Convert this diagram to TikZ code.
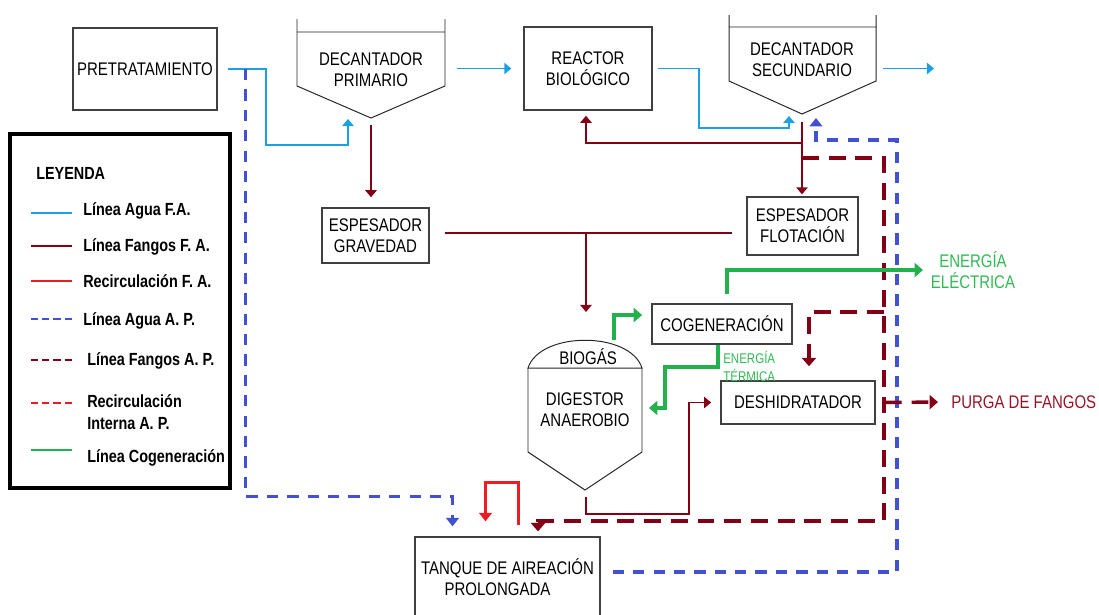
\documentclass[tikz,border=0pt]{standalone}
\usepackage{fontspec}
\setmainfont{Liberation Sans}[FakeStretch=0.82]
\usetikzlibrary{positioning}
\usetikzlibrary{calc}
\usetikzlibrary{arrows.meta}
\definecolor{colAgua}{RGB}{27,161,226}
\definecolor{colFango}{RGB}{130,0,22}
\definecolor{colRecirc}{RGB}{237,28,36}
\definecolor{colAguaAP}{RGB}{66,80,210}
\definecolor{colCogen}{RGB}{34,177,76}
\definecolor{colCogenTxt}{RGB}{50,185,85}
\definecolor{colPurga}{RGB}{150,20,40}

\begin{document}
\begin{tikzpicture}[
    x=0.025cm, y=-0.025cm,
    >={Triangle[length=5pt,width=8pt]},
    % node styles
    box/.style = {
      draw=black!75,
      line width=0.9pt,
      align=center,
      inner sep=0pt,
      font=\fontsize{13}{15}\selectfont
    },
    txt/.style = {
      align=center,
      inner sep=0pt,
      font=\fontsize{13}{15}\selectfont
    },
    tank/.style = {draw=black!85, line width=0.7pt},
    legtxt/.style = {
      anchor=base west,
      align=left,
      inner sep=0pt,
      font=\fontsize{12.5}{15.6}\selectfont\bfseries
    },
    leg/.style = {line width=2pt},
    % arrow styles
    agua/.style = {->, line width=1.3pt, draw=colAgua},
    fango/.style = {->, line width=1.3pt, draw=colFango},
    fangofino/.style = {->, line width=0.9pt, draw=colFango},
    recirc/.style = {->, line width=2.3pt, draw=colRecirc, >={Triangle[length=6pt,width=9pt]}},
    aguaap/.style = {->, line width=2.4pt, draw=colAguaAP, dash pattern=on 8pt off 6.5pt, >={Triangle[length=6pt,width=9pt]}},
    fangoap/.style = {->, line width=2.4pt, draw=colFango, dash pattern=on 12pt off 7pt, >={Triangle[length=6pt,width=10pt]}},
    cogenln/.style = {->, line width=2.3pt, draw=colCogen, >={Triangle[length=6pt,width=10pt]}}
  ]
  \useasboundingbox (0,0) rectangle (1099,614);

  % --- Nodes
  \node[box, minimum width=3.6cm, minimum height=2.05cm] (pretrat) at (145,69) {PRETRATAMIENTO};
  \node[txt, minimum width=3.7cm] (decprim) at (371,70) {DECANTADOR\\PRIMARIO};
  \node[box, minimum width=3.2cm, minimum height=2.08cm] (reactor) at (588,68.5) {REACTOR\\BIOLÓGICO};
  \node[txt, minimum width=3.68cm] (decsec) at (802,60) {DECANTADOR\\SECUNDARIO};
  \node[box, minimum width=2.68cm, minimum height=1.38cm] (espgrav) at (375.5,235.5) {ESPESADOR\\GRAVEDAD};
  \node[box, minimum width=2.78cm, minimum height=1.45cm] (espflot) at (802.5,226) {ESPESADOR\\FLOTACIÓN};
  \node[box, minimum width=3.5cm, minimum height=1cm] (cogen) at (722,324) {COGENERACIÓN};
  \node[txt] (biogas) at (588,357) {BIOGÁS};
  \node[txt] (digestor) at (585,410) {DIGESTOR\\ANAEROBIO};
  \node[box, minimum width=3.85cm, minimum height=1.08cm] (deshid) at (798,402.5) {DESHIDRATADOR};
  \node[box, minimum width=4.63cm, minimum height=2cm] (tanque) at (507.5,577) {TANQUE DE AIREACIÓN\\PROLONGADA\hspace*{0.5cm}};

  \node[txt, text=colCogenTxt] (eleclbl) at (973,270) {ENERGÍA\\ELÉCTRICA};
  \node[txt, anchor=west, align=left, text=colCogenTxt, font=\fontsize{10}{12.8}\selectfont] (termlbl) at (723,366) {ENERGÍA\\TÉRMICA};
  \node[txt, anchor=west, text=colPurga] (purgalbl) at (951,402) {PURGA DE FANGOS};

  % tanks drawn round their text
  \draw[tank] (297,19) -- (297,86) -- (371,118) -- (445,86) -- (445,19) (297,32) -- (445,32);
  \draw[tank] (729,15) -- (729,81) -- (802,114) -- (876,81) -- (876,15) (729,27) -- (876,27);
  \draw[tank] (528,368) .. controls (540,331) and (630,331) .. (642,368) -- cycle;
  \draw[tank] (528,368) -- (528,452) -- (585,490) -- (642,452) -- (642,368);

  % --- Coordinates for free ends
  \coordinate (decprimin) at (348,119);
  \coordinate (decprimout) at (371,125);
  \coordinate (decsecin) at (789,116);
  \coordinate (decsecret) at (816,118);
  \coordinate (decsecout) at (802,122);
  \coordinate (salida) at (934,68.5);
  \coordinate (espjoin) at (586,233);
  \coordinate (digin) at (586,312);
  \coordinate (digout) at (586,497);
  \coordinate (fangojoin) at (802,158);
  \coordinate (apjoin) at (884,312);
  \coordinate (purgaend) at (938,402);
  \coordinate (elecend) at (923,270);
  \coordinate (biogasout) at (614,340);
  \coordinate (termend) at (649,408);

  % --- Arrows
  % linea agua F.A.
  \draw[agua, shorten <=0.25cm] (pretrat.east) -| (266,145) -| (decprimin);
  \draw[agua, shorten <=0.28cm, shorten >=0.3cm] (decprim.east |- reactor.west) -- (reactor.west);
  \draw[agua, shorten <=0.13cm] (reactor.east) -| (699,128) -| (decsecin);
  \draw[agua, shorten <=0.18cm] (decsec.east |- reactor.east) -- (salida);

  % linea fangos F.A.
  \draw[fango, shorten >=0.25cm] (decprimout) -- (decprimout |- espgrav.north);
  \draw[fango, shorten >=0.05cm] (decsecout) -- (decsecout |- espflot.north);
  \draw[fango] (decsecout) |- ($(reactor.south)+(-2,32)$) -- ($(reactor.south)+(-2,5)$);
  \draw[fangofino, -, shorten <=0.38cm, shorten >=0.35cm] (espgrav.east |- espjoin) -- (espflot.west |- espjoin);
  \draw[fangofino] (espjoin) -- (digin);
  \draw[fangofino, shorten >=0.23cm] (digout) |- (689,514) |- (deshid.west);

  % recirculacion
  \draw[recirc] ($(tanque.north)+(11,-11)$) |- ($(tanque.north)+(-22,-54)$) -- ($(tanque.north)+(-22,-15)$);

  % linea agua A.P.
  \draw[aguaap] ($(pretrat.east)+(28,0)$) |- ($(tanque.north)+(-55,-40)$) -- ($(tanque.north)+(-55,-10)$);
  \draw[aguaap, shorten <=0.3cm] ($(tanque.east)+(0,-5)$) -| (897,140) -| (decsecret);

  % linea fangos A.P.
  \draw[fangoap] (fangojoin) -| (884,521) -| ($(tanque.north)+(30.5,-5)$);
  \draw[fangoap] (apjoin) -| ($(deshid.north)+(11,-14)$);
  \draw[fangoap, shorten <=0.23cm] (deshid.east) -- (purgaend);

  % cogeneracion
  \draw[cogenln] ($(cogen.north)+(5,-9)$) |- (elecend);
  \draw[cogenln, shorten >=0.23cm] (biogasout) |- ($(cogen.west)+(0,-9)$);
  \draw[cogenln] ($(cogen.south)+(-4,0)$) |- (665,367) |- (termend);

  % --- Legend
  \node[draw, line width=2.5pt, minimum width=5.5cm, minimum height=8.85cm, inner sep=0pt] (leyenda) at (120,311) {};
  \node[legtxt] (leytit) at (36,179) {LEYENDA};
  \draw[leg, colAgua] (31,213) -- (72,213);
  \node[legtxt] (leg1) at (83,215) {Línea Agua F.A.};
  \draw[leg, colFango] (31,246) -- (72,246);
  \node[legtxt] (leg2) at (83,251) {Línea Fangos F. A.};
  \draw[leg, colRecirc] (31,281) -- (72,281);
  \node[legtxt] (leg3) at (83,287) {Recirculación F. A.};
  \draw[leg, colAguaAP, dash pattern=on 5pt off 3pt] (31,319) -- (72,319);
  \node[legtxt] (leg4) at (83,325) {Línea Agua A. P.};
  \draw[leg, colFango, dash pattern=on 5pt off 3pt] (31,360) -- (72,360);
  \node[legtxt] (leg5) at (87,365) {Línea Fangos A. P.};
  \draw[leg, colRecirc, dash pattern=on 5pt off 3pt] (31,403) -- (72,403);
  \node[legtxt] (leg6) at (87,429) {Recirculación\\Interna A. P.};
  \draw[leg, colCogen] (31,450) -- (72,450);
  \node[legtxt] (leg7) at (87,462) {Línea Cogeneración};

\end{tikzpicture}
\end{document}
